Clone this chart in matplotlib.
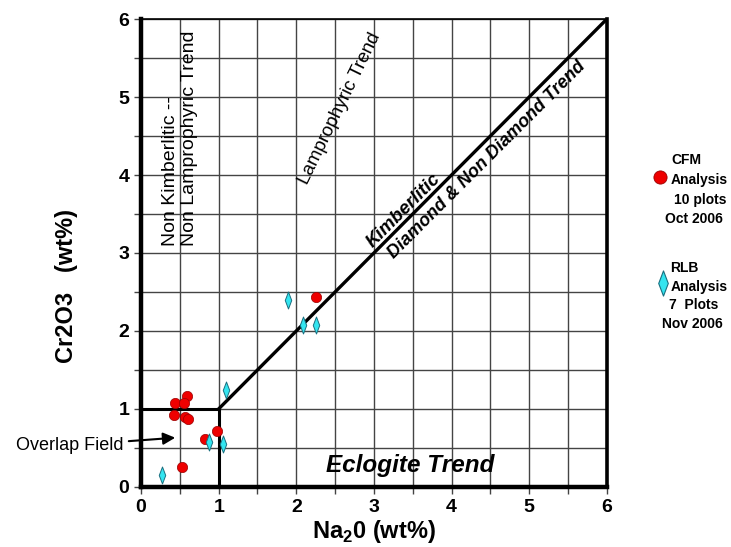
import matplotlib.pyplot as plt
from matplotlib.path import Path

plt.rcParams['font.family'] = ['Liberation Sans', 'DejaVu Sans']
plt.rcParams['mathtext.fontset'] = 'custom'
plt.rcParams['mathtext.rm'] = 'Liberation Sans'
plt.rcParams['mathtext.bf'] = 'Liberation Sans:bold'

# CFM analysis (red circles)
cfm_na2o = [0.59, 0.44, 0.55, 0.43, 0.57, 0.60, 0.975, 0.82, 0.53, 2.25]
cfm_cr2o3 = [1.17, 1.08, 1.07, 0.92, 0.90, 0.87, 0.72, 0.61, 0.25, 2.43]

# RLB analysis (cyan diamonds)
rlb_na2o = [1.10, 0.87, 1.06, 0.27, 1.89, 2.08, 2.26]
rlb_cr2o3 = [1.24, 0.58, 0.55, 0.15, 2.40, 2.07, 2.08]

ticks = [0, 1, 2, 3, 4, 5, 6]
half_ticks = [0.5, 1.5, 2.5, 3.5, 4.5, 5.5]

diamond = Path([(0, 1), (0.38, 0), (0, -1), (-0.38, 0), (0, 1)],
               [Path.MOVETO, Path.LINETO, Path.LINETO, Path.LINETO, Path.CLOSEPOLY])

fig = plt.figure(figsize=(7.31, 5.47), dpi=100)
ax = fig.add_axes([0.193, 0.110, 0.637, 0.855])
ax.set_xlim(0, 6)
ax.set_ylim(0, 6)
ax.set_xticks(ticks)
ax.set_yticks(ticks)
ax.set_xticks(half_ticks, minor=True)
ax.set_yticks(half_ticks, minor=True)
ax.set_xticklabels([str(t) for t in ticks], fontsize=14, fontweight='bold')
ax.set_yticklabels([str(t) for t in ticks], fontsize=14, fontweight='bold')
ax.tick_params(which='both', direction='out', length=5, width=1, color='#444444')
ax.grid(True, which='both', color='#444444', linewidth=1.0, zorder=0)
ax.set_axisbelow(True)

for side, lw in [('left', 3.2), ('bottom', 3.2), ('right', 2.6), ('top', 1.2)]:
    ax.spines[side].set_linewidth(lw)
    ax.spines[side].set_color('black')

# field boundaries
ax.plot([0, 1], [1, 1], color='black', lw=2.2, zorder=3)
ax.plot([1, 1], [0, 1], color='black', lw=2.2, zorder=3)
ax.plot([1, 6], [1, 6], color='black', lw=2.4, zorder=3)

ax.scatter(cfm_na2o, cfm_cr2o3, s=55, c='#ee0000', edgecolors='#990000',
           linewidths=0.5, zorder=5)
ax.scatter(rlb_na2o, rlb_cr2o3, s=150, marker=diamond, c='#33e5f0',
           edgecolors='#1a6f80', linewidths=0.7, zorder=5)

ax.set_xlabel(r'Na$_{\mathbf{2}}$0 (wt%)', fontsize=17, fontweight='bold', labelpad=2)
ax.set_ylabel('Cr2O3   (wt%)', fontsize=17, fontweight='bold')
ax.yaxis.set_label_coords(-0.135, 0.43)

ax.text(0.5, 4.47, 'Non Kimberlitic --\nNon Lamprophyric Trend', rotation=90,
        fontsize=14, ha='center', va='center', multialignment='left')
ax.text(2.56, 4.85, 'Lamprophyric Trend', rotation=64, fontsize=13.5,
        ha='center', va='center')
ax.text(3.38, 3.55, 'Kimberlitic', rotation=45, fontsize=13.5,
        fontweight='bold', style='italic', ha='center', va='center')
ax.text(4.45, 4.2, 'Diamond & Non Diamond Trend', rotation=45, fontsize=13,
        fontweight='bold', style='italic', ha='center', va='center')
ax.text(3.47, 0.28, 'Eclogite Trend', fontsize=17.5, fontweight='bold',
        style='italic', ha='center', va='center')

ax.annotate('Overlap Field', xy=(0.44, 0.63), xytext=(-0.23, 0.53),
            fontsize=13, ha='right', va='center', annotation_clip=False,
            arrowprops=dict(arrowstyle='-|>', color='black', lw=1.5,
                            mutation_scale=18, shrinkA=2, shrinkB=0))

# legend drawn outside the axes
ax.scatter([6.69], [3.98], s=90, c='#ee0000', edgecolors='#990000',
           linewidths=0.6, clip_on=False, zorder=5)
ax.scatter([6.73], [2.62], s=330, marker=diamond, c='#33e5f0',
           edgecolors='#1a6f80', linewidths=0.8, clip_on=False, zorder=5)

cfm_lines = [('CFM', 686, 160), ('Analysis', 699, 180), ('10 plots', 700, 200), ('Oct 2006', 694, 219)]
rlb_lines = [('RLB', 684, 268), ('Analysis', 699, 287), ('7  Plots', 694, 305), ('Nov 2006', 692, 324)]
for label, px, py in cfm_lines + rlb_lines:
    fig.text(px / 731, 1 - py / 547, label, fontsize=10, fontweight='bold',
             ha='center', va='center')

fig.savefig('out.png', dpi=100)
